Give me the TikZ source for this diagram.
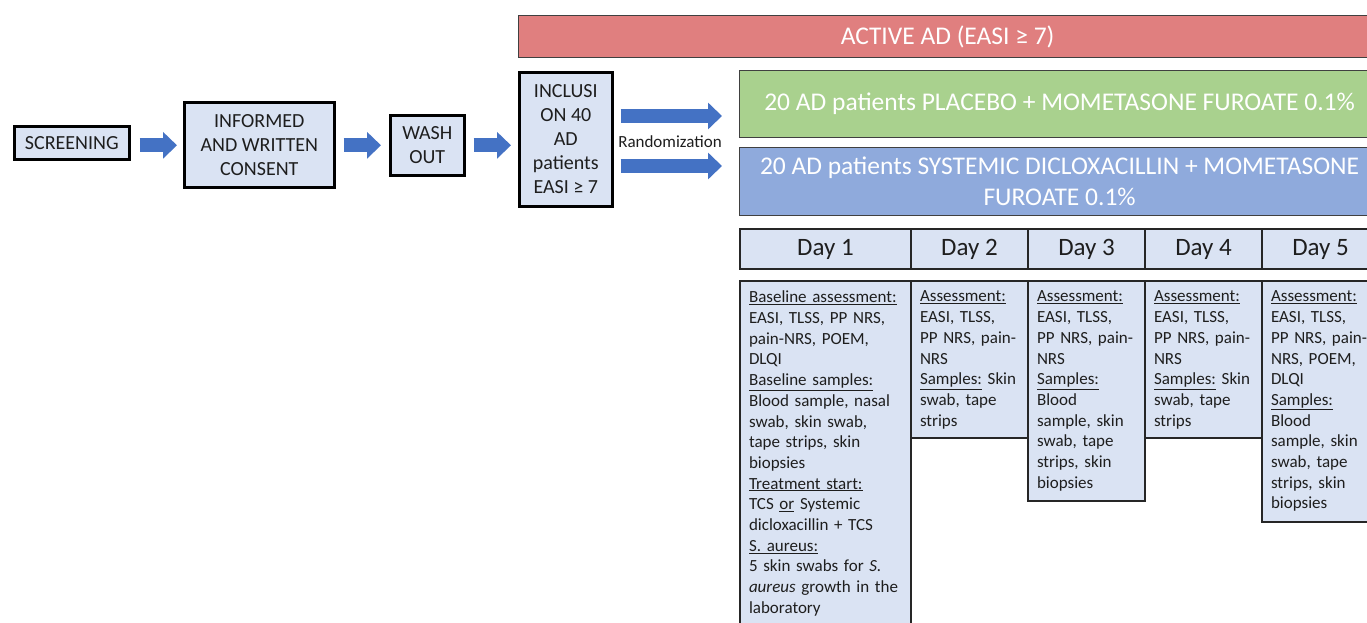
\documentclass[tikz,border=0pt]{standalone}
\usepackage{fontspec}
\setmainfont{Carlito}
\usetikzlibrary{arrows.meta,positioning}

\definecolor{boxblue}{HTML}{DAE3F3}
\definecolor{arrowblue}{HTML}{4472C4}
\definecolor{activered}{HTML}{E07F7F}
\definecolor{placgreen}{HTML}{A9D18E}
\definecolor{dicloxblue}{HTML}{8FAADC}
\definecolor{ink}{HTML}{1E1E1E}

\newcommand{\celltext}[2]{\parbox[t][#1][t]{\linewidth}{\vspace*{5pt}#2}}

\begin{document}
\begin{tikzpicture}[x=1pt,y=-1pt,
  stage/.style={draw=black,line width=2.6pt,fill=boxblue,align=center,inner sep=0pt,
    text=ink,anchor=north west,font=\fontsize{20}{24}\selectfont},
  band/.style={draw=black!75,line width=1.2pt,anchor=north west,text=white,align=center,
    inner sep=0pt,font=\fontsize{25.5}{31}\selectfont},
  dayhead/.style={draw=black!85,line width=2pt,fill=boxblue,anchor=north west,inner sep=0pt,
    minimum height=40pt,text=ink,font=\fontsize{25}{26}\selectfont},
  cell/.style={draw=black!85,line width=2pt,fill=boxblue,anchor=north west,align=left,
    inner xsep=9pt,inner ysep=5pt,text=ink,font=\fontsize{17}{20.7}\selectfont},
  barrow/.style={draw=arrowblue,line width=14pt,-{Triangle[width=26pt,length=14pt]}}]
  \useasboundingbox (0,0) rectangle (1367,623);
  \clip (0,0) rectangle (1367,623);

  % flow before randomization
  \node[stage,minimum width=115pt,minimum height=33pt] (scr) at (13,125) {SCREENING};
  \node[stage,minimum width=150pt,minimum height=85pt] (cons) at (183,101) {INFORMED\\AND WRITTEN\\CONSENT};
  \node[stage,minimum width=74pt,minimum height=60pt] (wash) at (389,114) {WASH\\OUT};
  \node[stage,minimum width=93pt,minimum height=134pt] (incl) at (518,71) {INCLUSI\\ON 40\\AD\\patients\\EASI ≥ 7};

  % arms
  \node[band,fill=activered,minimum width=858pt,minimum height=42pt] (active) at (518,15) {ACTIVE AD (EASI ≥ 7)};
  \node[band,fill=placgreen,minimum width=640pt,minimum height=67pt] (plac) at (739,70) {20 AD patients PLACEBO + MOMETASONE FUROATE 0.1\%};
  \node[band,fill=dicloxblue,minimum width=640pt,minimum height=68pt] (diclox) at (739,147) {20 AD patients SYSTEMIC DICLOXACILLIN + MOMETASONE\\FUROATE 0.1\%};

  \draw[barrow,shorten <=9pt,shorten >=6pt] (scr.east |- wash.center) -- (cons.west |- wash.center);
  \draw[barrow,shorten <=8pt,shorten >=8pt] (cons.east |- wash.center) -- (wash.west);
  \draw[barrow,shorten <=8pt,shorten >=7pt] (wash.east) -- (incl.west |- wash.center);

  \coordinate (upr) at (0,116);
  \coordinate (lwr) at (0,166);
  \draw[barrow,shorten <=7pt,shorten >=17pt] (incl.east |- upr) -- (plac.west |- upr);
  \draw[barrow,shorten <=7pt,shorten >=17pt] (incl.east |- lwr) -- (diclox.west |- lwr);
  \node[text=ink,font=\fontsize{17}{18}\selectfont] (rand) at (670,142) {Randomization};

  % days
  \node[dayhead,minimum width=171pt] (d1) at (739,228) {Day 1};
  \node[dayhead,minimum width=117pt] (d2) at (910,228) {Day 2};
  \node[dayhead,minimum width=117pt] (d3) at (1027,228) {Day 3};
  \node[dayhead,minimum width=117pt] (d4) at (1144,228) {Day 4};
  \node[dayhead,minimum width=117pt] (d5) at (1261,228) {Day 5};

  \node[cell,text width=153pt] (c1) at (739,280) {\celltext{342pt}{%
    \underline{Baseline assessment:}\\EASI, TLSS, PP NRS,\\pain-NRS, POEM,\\DLQI\\
    \underline{Baseline samples:}\\Blood sample, nasal\\swab, skin swab,\\tape strips, skin\\biopsies\\
    \underline{Treatment start:}\\TCS \underline{or} Systemic\\dicloxacillin + TCS\\
    \underline{S. aureus:}\\5 skin swabs for \textit{S.}\\\textit{aureus} growth in the\\laboratory}};
  \node[cell,text width=99pt] (c2) at (910,280) {\celltext{147pt}{%
    \underline{Assessment:}\\EASI, TLSS,\\PP NRS, pain-\\NRS\\
    \underline{Samples:} Skin\\swab, tape\\strips}};
  \node[cell,text width=99pt] (c3) at (1027,280) {\celltext{210pt}{%
    \underline{Assessment:}\\EASI, TLSS,\\PP NRS, pain-\\NRS\\
    \underline{Samples:}\\Blood\\sample, skin\\swab, tape\\strips, skin\\biopsies}};
  \node[cell,text width=99pt] (c4) at (1144,280) {\celltext{147pt}{%
    \underline{Assessment:}\\EASI, TLSS,\\PP NRS, pain-\\NRS\\
    \underline{Samples:} Skin\\swab, tape\\strips}};
  \node[cell,text width=99pt] (c5) at (1261,280) {\celltext{231pt}{%
    \underline{Assessment:}\\EASI, TLSS,\\PP NRS, pain-\\NRS, POEM,\\DLQI\\
    \underline{Samples:}\\Blood\\sample, skin\\swab, tape\\strips, skin\\biopsies}};
\end{tikzpicture}
\end{document}
